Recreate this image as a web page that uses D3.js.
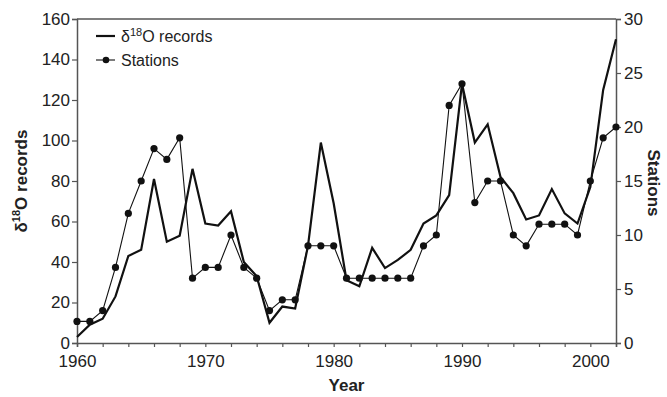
<!DOCTYPE html>
<html>
<head>
<meta charset="utf-8">
<script src="https://cdn.jsdelivr.net/npm/d3@7"></script>
<style>
  body { margin: 0; background: #fff; }
  text { font-family: "Liberation Sans", Arial, sans-serif; }
</style>
</head>
<body>
<svg id="chart" width="667" height="397"></svg>
<script>
// years 1960..2002
var years = d3.range(1960, 2003);

// d18O records per year (left axis)
var records = [3, 9, 12, 23, 43, 46, 81, 50, 53, 86, 59, 58, 65, 40, 33,
               10, 18, 17, 48, 99, 69, 31, 28, 47, 37, 41, 46, 59, 63,
               73, 128, 99, 108, 82, 74, 61, 63, 76, 64, 59, 77, 125, 150];

// stations per year (right axis)
var stations = [2, 2, 3, 7, 12, 15, 18, 17, 19, 6, 7, 7, 10, 7, 6,
                3, 4, 4, 9, 9, 9, 6, 6, 6, 6, 6, 6, 9, 10,
                22, 24, 13, 15, 15, 10, 9, 11, 11, 11, 10, 15, 19, 20];

var leftTicks = d3.range(0, 161, 20);
var rightTicks = d3.range(0, 31, 5);
var yearLabels = [1960, 1970, 1980, 1990, 2000];

var svg = d3.select("#chart"),
    margin = {top: 19, right: 51, bottom: 54, left: 77},
    width = 667 - margin.left - margin.right,
    height = 397 - margin.top - margin.bottom;

var axisColor = "#555";

var g = svg.append("g")
  .attr("transform", "translate(" + margin.left + "," + margin.top + ")");

var x = d3.scaleLinear().domain([1960, 2002]).range([0, width]);
var yL = d3.scaleLinear().domain([0, 160]).range([height, 0]);
var yR = d3.scaleLinear().domain([0, 30]).range([height, 0]);

// frame top line
g.append("line")
  .attr("x1", 0).attr("x2", width)
  .attr("y1", 0).attr("y2", 0)
  .style("stroke", axisColor).style("stroke-width", 1.5);

// x axis
var xAxis = g.append("g")
  .attr("transform", "translate(0," + height + ")")
  .call(d3.axisBottom(x)
    .tickValues(d3.range(1960, 2003, 2))
    .tickSize(4)
    .tickFormat(function(d) { return yearLabels.includes(d) ? d : ""; }));

// left axis
var leftAxis = g.append("g")
  .call(d3.axisLeft(yL).tickValues(leftTicks).tickSize(5));

// right axis
var rightAxis = g.append("g")
  .attr("transform", "translate(" + width + ",0)")
  .call(d3.axisRight(yR).tickValues(rightTicks).tickSize(5));

[xAxis, leftAxis, rightAxis].forEach(function(a) {
  a.select(".domain").style("stroke", axisColor).style("stroke-width", 1.5);
  a.selectAll(".tick line").style("stroke", axisColor).style("stroke-width", 1.2);
  a.selectAll(".tick text")
    .style("font-size", "17px")
    .style("fill", "#222")
    .style("font-family", "'Liberation Sans', Arial, sans-serif");
});
xAxis.selectAll(".tick text").attr("dy", "1em");
leftAxis.selectAll(".tick text").attr("x", -7);
rightAxis.selectAll(".tick text").attr("x", 8);

// lines
var recLine = d3.line()
  .x(function(d, i) { return x(years[i]); })
  .y(function(d) { return yL(d); });

var stLine = d3.line()
  .x(function(d, i) { return x(years[i]); })
  .y(function(d) { return yR(d); });

g.append("path")
  .datum(stations)
  .attr("d", stLine)
  .style("fill", "none")
  .style("stroke", "#111")
  .style("stroke-width", 1.1);

g.append("path")
  .datum(records)
  .attr("d", recLine)
  .style("fill", "none")
  .style("stroke", "#111")
  .style("stroke-width", 2.2)
  .style("stroke-linejoin", "miter");

g.selectAll(".dot")
  .data(stations)
  .enter()
  .append("circle")
  .attr("class", "dot")
  .attr("cx", function(d, i) { return x(years[i]); })
  .attr("cy", function(d) { return yR(d); })
  .attr("r", 3.6)
  .style("fill", "#111");

// legend
var legend = svg.append("g").attr("transform", "translate(96,0)");
legend.append("line")
  .attr("x1", 0).attr("x2", 19).attr("y1", 36).attr("y2", 36)
  .style("stroke", "#111").style("stroke-width", 2.2);
var lt = legend.append("text")
  .attr("x", 25).attr("y", 42)
  .style("font-size", "16px").style("fill", "#222");
lt.append("tspan").text("\u03b4");
lt.append("tspan").attr("dy", -6).style("font-size", "11px").text("18");
lt.append("tspan").attr("dy", 6).text("O records");

legend.append("line")
  .attr("x1", 0).attr("x2", 19).attr("y1", 60).attr("y2", 60)
  .style("stroke", "#111").style("stroke-width", 1.1);
legend.append("circle")
  .attr("cx", 10).attr("cy", 60).attr("r", 3.3).style("fill", "#111");
legend.append("text")
  .attr("x", 25).attr("y", 66)
  .style("font-size", "16px").style("fill", "#222")
  .text("Stations");

// axis titles
svg.append("text")
  .attr("x", margin.left + width / 2)
  .attr("y", 391)
  .attr("text-anchor", "middle")
  .style("font-size", "17px").style("font-weight", "bold").style("fill", "#222")
  .text("Year");

var lTitle = svg.append("text")
  .attr("transform", "translate(27," + (margin.top + height / 2) + ") rotate(-90)")
  .attr("text-anchor", "middle")
  .style("font-size", "17px").style("font-weight", "bold").style("fill", "#222");
lTitle.append("tspan").text("\u03b4");
lTitle.append("tspan").attr("dy", -7).style("font-size", "11px").text("18");
lTitle.append("tspan").attr("dy", 7).text("O records");

svg.append("text")
  .attr("transform", "translate(648," + (margin.top + height / 2 + 2) + ") rotate(90)")
  .attr("text-anchor", "middle")
  .style("font-size", "17px").style("font-weight", "bold").style("fill", "#222")
  .text("Stations");
</script>
</body>
</html>
